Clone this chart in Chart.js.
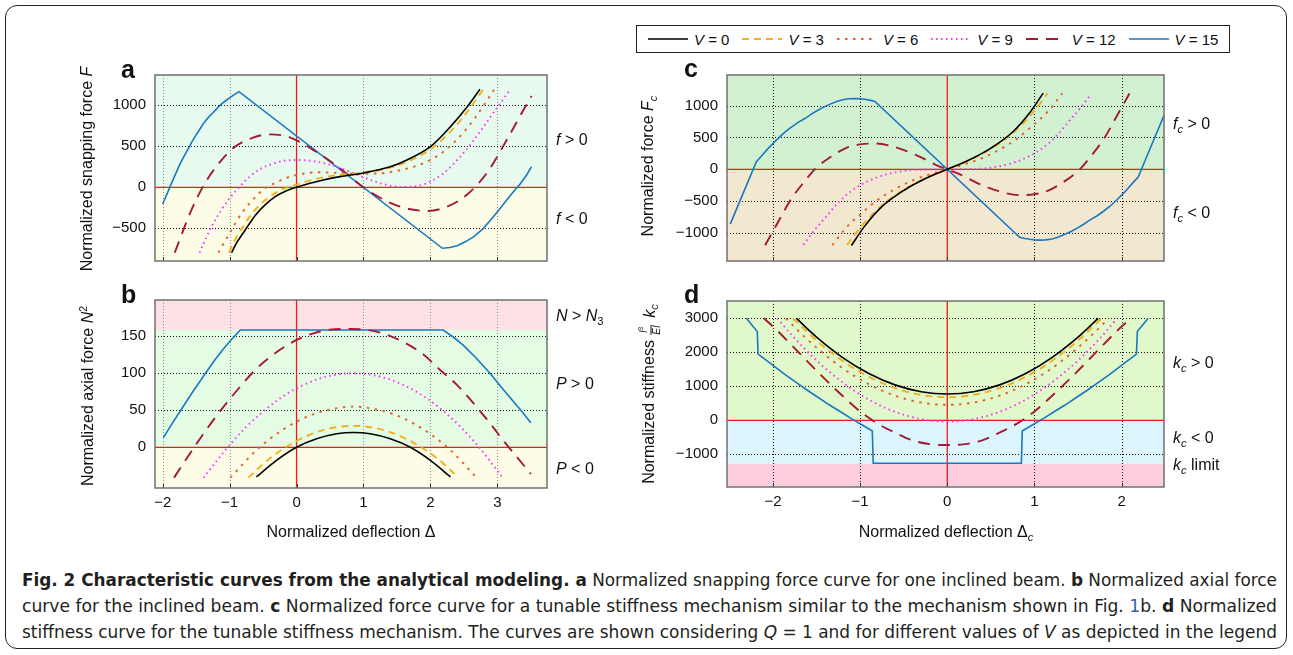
<!DOCTYPE html>
<html>
<head>
<meta charset="utf-8">
<title>Fig. 2</title>
<script src="https://cdn.jsdelivr.net/npm/chart.js@4.4.0/dist/chart.umd.min.js"></script>
<style>
  html, body { margin: 0; padding: 0; background: #fff; }
  body { width: 1293px; height: 655px; position: relative; overflow: hidden;
         font-family: "Liberation Sans", Arial, Helvetica, sans-serif; color: #111; }
  .outer { position: absolute; left: 5px; top: 5px; width: 1280px; height: 642px;
           border: 1.5px solid #222; border-radius: 12px; }
  canvas { position: absolute; }
  .txt { position: absolute; white-space: nowrap; line-height: 1; }
  .mid { transform: translateY(-50%); }
  .ctr { transform: translate(-50%, -50%); }
  .rot { transform: translate(-50%, -50%) rotate(-90deg); }
  .letter { font-weight: bold; font-size: 25px; }
  .ann, .ttl { font-size: 16px; }
  sub { font-size: 70%; vertical-align: -0.35em; line-height: 0; }
  sup { font-size: 65%; vertical-align: 0.55em; line-height: 0; }
  .frac { display: inline-block; vertical-align: middle; text-align: center;
          font-size: 10px; line-height: 1.05; margin: 0 3px 0 1px; }
  .frac span { display: block; }
  .frac .num { border-bottom: 1px solid #111; padding: 0 1px 1px; }
  #legend { position: absolute; left: 636px; top: 25px; width: 594px; height: 28px;
            box-sizing: border-box; border: 1px solid #222; display: flex; align-items: center;
            padding-left: 11px; font-size: 15px; white-space: nowrap; }
  #legend .item { display: flex; align-items: center; margin-right: 13px; flex-shrink: 0; }
  #legend svg { margin-right: 6px; flex-shrink: 0; }
  #legend span { white-space: nowrap; }
  .cap { position: absolute; left: 22px; font-family: "Liberation Sans Narrow", "DejaVu Sans Condensed", "Liberation Sans", sans-serif;
         font-size: 18px; line-height: 1; white-space: nowrap; transform-origin: 0 0; color: #231f20; }
  .cap .lnk { color: #2c5fb4; }
</style>
</head>
<body>
<div class="outer"></div>

<canvas id="chartA"></canvas>
<canvas id="chartB"></canvas>
<canvas id="chartC"></canvas>
<canvas id="chartD"></canvas>

<div id="legend"></div>

<div class="txt letter" style="left:121px;top:57px">a</div>
<div class="txt letter" style="left:121px;top:282px">b</div>
<div class="txt letter" style="left:684px;top:56px">c</div>
<div class="txt letter" style="left:684px;top:282px">d</div>

<div class="txt ttl rot" style="left:87px;top:169px">Normalized snapping force <i>F</i></div>
<div class="txt ttl rot" style="left:88px;top:396px">Normalized axial force <i>N</i><sup>2</sup></div>
<div class="txt ttl rot" style="left:648px;top:166px">Normalized force <i>F<sub>c</sub></i></div>
<div class="txt ttl rot" style="left:650px;top:394px">Normalized stiffness <span class="frac"><span class="num"><i>l</i><sup>3</sup></span><span><i>EI</i></span></span> <i>k<sub>c</sub></i></div>

<div class="txt ttl ctr" style="left:351px;top:532px">Normalized deflection Δ</div>
<div class="txt ttl ctr" style="left:946px;top:532px">Normalized deflection Δ<sub><i>c</i></sub></div>

<div class="txt ann mid" style="left:556px;top:140px"><i>f</i> &gt; 0</div>
<div class="txt ann mid" style="left:556px;top:219px"><i>f</i> &lt; 0</div>
<div class="txt ann mid" style="left:556px;top:316px"><i>N</i> &gt; <i>N</i><sub>3</sub></div>
<div class="txt ann mid" style="left:556px;top:384px"><i>P</i> &gt; 0</div>
<div class="txt ann mid" style="left:556px;top:469px"><i>P</i> &lt; 0</div>
<div class="txt ann mid" style="left:1173px;top:124px"><i>f<sub>c</sub></i> &gt; 0</div>
<div class="txt ann mid" style="left:1173px;top:213px"><i>f<sub>c</sub></i> &lt; 0</div>
<div class="txt ann mid" style="left:1173px;top:363px"><i>k<sub>c</sub></i> &gt; 0</div>
<div class="txt ann mid" style="left:1173px;top:438px"><i>k<sub>c</sub></i> &lt; 0</div>
<div class="txt ann mid" style="left:1173px;top:465px"><i>k<sub>c</sub></i> limit</div>

<div class="cap" style="top:571px"><b>Fig. 2 Characteristic curves from the analytical modeling. a</b> Normalized snapping force curve for one inclined beam. <b>b</b> Normalized axial force</div>
<div class="cap" style="top:597px">curve for the inclined beam. <b>c</b> Normalized force curve for a tunable stiffness mechanism similar to the mechanism shown in Fig. <span class="lnk">1</span>b. <b>d</b> Normalized</div>
<div class="cap" style="top:623px">stiffness curve for the tunable stiffness mechanism. The curves are shown considering <i>Q</i> = 1 and for different values of <i>V</i> as depicted in the legend</div>

<script>
const vValues = [0, 3, 6, 9, 12, 15];

// a: normalized snapping force F vs deflection
const aXTicks = [-2, -1, 0, 1, 2, 3];
const aYTicks = [-500, 0, 500, 1000];
const aXRange = [-2.115, 3.742];
const aYRange = [-899, 1370];
const aBounds = [0];
const aV0 = [[-0.97,-797],[-0.9,-683],[-0.8,-561],[-0.7,-439],[-0.6,-325],[-0.47,-215],[-0.32,-114],[-0.15,-41],[0,0],[0.2,49],[0.4,89],[0.65,130],[1.0,175],[1.4,251],[1.65,333],[2.0,495],[2.3,740],[2.55,983],[2.74,1195]];
const aV3 = [[-1.01,-797],[-0.92,-642],[-0.8,-480],[-0.7,-358],[-0.55,-215],[-0.4,-114],[-0.25,-41],[-0.1,8],[0.05,45],[0.25,95],[0.45,130],[0.7,159],[1.0,180],[1.4,240],[1.65,310],[2.0,463],[2.3,680],[2.55,920],[2.79,1195]];
const aV6 = [[-1.17,-797],[-1.0,-561],[-0.82,-317],[-0.61,-114],[-0.47,-12],[-0.3,60],[-0.17,110],[0,150],[0.3,183],[0.6,178],[0.9,165],[1.2,168],[1.5,200],[1.8,265],[2.06,360],[2.37,560],[2.67,850],[2.95,1190]];
const aV9 = [[-1.45,-797],[-1.27,-480],[-1.14,-297],[-1.0,-134],[-0.85,8],[-0.7,130],[-0.55,220],[-0.4,275],[-0.2,322],[0,333],[0.2,325],[0.4,295],[0.6,250],[0.8,190],[1.0,122],[1.3,38],[1.55,5],[1.8,15],[2.0,70],[2.2,175],[2.4,333],[2.65,577],[2.9,861],[3.18,1180]];
const aV12 = [[-1.82,-797],[-1.57,-276],[-1.37,49],[-1.14,313],[-0.95,476],[-0.65,606],[-0.4,646],[-0.1,610],[0.3,430],[0.7,200],[1.0,0],[1.4,-190],[1.7,-268],[1.95,-289],[2.25,-236],[2.54,-94],[2.84,171],[3.14,577],[3.39,943],[3.51,1113]];
const aV15 = [[-2.0,-203],[-1.94,-90],[-1.89,8],[-1.82,140],[-1.75,270],[-1.68,380],[-1.62,470],[-1.56,560],[-1.5,640],[-1.44,715],[-1.39,780],[-1.32,850],[-1.25,910],[-1.19,960],[-1.14,1004],[-1.07,1050],[-1.0,1090],[-0.93,1130],[-0.86,1167],[2.18,-744],[2.29,-735],[2.4,-712],[2.52,-665],[2.65,-602],[2.78,-510],[2.9,-399],[3.02,-280],[3.14,-155],[3.24,-55],[3.34,40],[3.43,140],[3.51,251]];

// b: normalized axial force N^2 vs deflection
const bXTicks = [-2, -1, 0, 1, 2, 3];
const bYTicks = [0, 50, 100, 150];
const bXRange = [-2.115, 3.742];
const bYRange = [-55, 199];
const bBounds = [0, 158.5];
const bV0 = [[-0.6,-40],[-0.3,-17.7],[0,0],[0.3,11.4],[0.6,18.2],[0.85,20],[1.1,18.2],[1.4,11.4],[1.7,0],[2.0,-17.7],[2.3,-40]];
const bV3 = [[-0.72,-41],[-0.4,-15],[0,8.5],[0.4,23.3],[0.85,29],[1.3,23.3],[1.7,8.5],[2.1,-15],[2.42,-41]];
const bV6 = [[-0.99,-41],[-0.6,-4],[-0.2,24],[0.2,43],[0.5,51],[0.85,55],[1.2,51],[1.5,43],[1.9,24],[2.3,-4],[2.69,-41]];
const bV9 = [[-1.39,-41],[-1.0,3],[-0.75,27.6],[-0.5,48.4],[-0.25,65.8],[0,79.6],[0.4,94.3],[0.85,100],[1.3,94.3],[1.7,79.6],[1.95,65.8],[2.2,48.4],[2.45,27.6],[2.7,3],[3.08,-41]];
const bV12 = [[-1.83,-41],[-1.5,4],[-1.26,34.7],[-0.99,66],[-0.59,107],[-0.29,129],[0,145],[0.25,154],[0.5,159],[0.8,160],[1.1,158],[1.35,152],[1.6,142],[1.9,125],[2.15,104],[2.4,84],[2.6,64],[2.85,37],[3.1,8],[3.3,-14],[3.5,-36]];
const bV15 = [[-1.99,13],[-1.86,32],[-1.73,50],[-1.55,75],[-1.36,100],[-1.23,117],[-1.1,132],[-0.97,146],[-0.84,158.5],[2.19,158.5],[2.34,149],[2.49,138],[2.69,120],[2.89,100],[3.06,81],[3.24,62],[3.37,48],[3.5,33]];

// c: normalized force Fc vs deflection
const cXTicks = [-2, -1, 0, 1, 2];
const cYTicks = [-1000, -500, 0, 500, 1000];
const cXRange = [-2.527, 2.486];
const cYRange = [-1438, 1479];
const cBounds = [0];
const cV0 = [[-1.1,-1195],[-0.95,-895],[-0.75,-585],[-0.5,-332],[-0.25,-145],[0,0],[0.25,145],[0.5,332],[0.75,585],[0.95,895],[1.1,1195]];
const cV3 = [[-1.15,-1190],[-1.0,-916],[-0.75,-565],[-0.5,-319],[-0.25,-142],[0,0],[0.25,142],[0.5,319],[0.75,565],[1.0,916],[1.15,1190]];
const cV6 = [[-1.32,-1190],[-1.15,-900],[-1.0,-710],[-0.8,-480],[-0.6,-310],[-0.4,-175],[-0.2,-80],[0,0],[0.2,80],[0.4,175],[0.6,310],[0.8,480],[1.0,710],[1.15,900],[1.32,1190]];
const cV9 = [[-1.65,-1185],[-1.55,-1000],[-1.4,-760],[-1.25,-520],[-1.1,-340],[-0.9,-180],[-0.7,-80],[-0.5,-25],[-0.3,-5],[0,0],[0.3,5],[0.5,25],[0.7,80],[0.9,180],[1.1,340],[1.25,520],[1.4,760],[1.55,1000],[1.65,1185]];
const cV12 = [[-2.09,-1190],[-1.95,-849],[-1.8,-485],[-1.65,-210],[-1.52,0],[-1.34,193],[-1.15,339],[-1.0,391],[-0.82,405],[-0.58,339],[-0.35,219],[-0.12,63],[0,0],[0.12,-63],[0.35,-219],[0.58,-339],[0.82,-405],[1.0,-391],[1.15,-339],[1.34,-193],[1.52,0],[1.65,210],[1.8,485],[1.95,849],[2.09,1190]];
const cV15 = [[-2.49,-860],[-2.34,-370],[-2.19,120],[-2.12,225],[-2.06,320],[-2.0,405],[-1.94,485],[-1.87,575],[-1.8,650],[-1.72,728],[-1.63,800],[-1.56,865],[-1.5,915],[-1.42,975],[-1.33,1030],[-1.26,1068],[-1.2,1092],[-1.13,1106],[-1.06,1110],[-1.0,1106],[-0.95,1098],[-0.89,1085],[-0.83,1065],[0.83,-1065],[0.89,-1085],[0.95,-1098],[1.0,-1106],[1.06,-1110],[1.13,-1106],[1.2,-1092],[1.26,-1068],[1.33,-1030],[1.42,-975],[1.5,-915],[1.56,-865],[1.63,-800],[1.72,-728],[1.8,-650],[1.87,-575],[1.94,-485],[2.0,-405],[2.06,-320],[2.12,-225],[2.19,-120],[2.34,370],[2.49,860]];

// d: normalized stiffness kc vs deflection
const dXTicks = [-2, -1, 0, 1, 2];
const dYTicks = [-1000, 0, 1000, 2000, 3000];
const dXRange = [-2.527, 2.486];
const dYRange = [-1962, 3509];
const dBounds = [-1265, 0];
const dV0 = [[-1.73,3000],[-1.62,2727],[-1.5,2448],[-1.2,1845],[-0.9,1377],[-0.6,1042],[-0.3,841],[0,774],[0.3,841],[0.6,1042],[0.9,1377],[1.2,1845],[1.5,2448],[1.62,2727],[1.73,3000]];
const dV3 = [[-1.77,3000],[-1.5,2345],[-1.2,1746],[-0.9,1279],[-0.6,946],[-0.3,747],[0,680],[0.3,747],[0.6,946],[0.9,1279],[1.2,1746],[1.5,2345],[1.77,3000]];
const dV6 = [[-1.85,3000],[-1.7,2610],[-1.5,2138],[-1.2,1532],[-0.9,1061],[-0.6,724],[-0.3,522],[0,455],[0.3,522],[0.6,724],[0.9,1061],[1.2,1532],[1.5,2138],[1.7,2610],[1.85,3000]];
const dV9 = [[-1.95,3000],[-1.75,2409],[-1.5,1760],[-1.2,1113],[-0.9,609],[-0.6,250],[-0.3,34],[0,-38],[0.3,34],[0.6,250],[0.9,609],[1.2,1113],[1.5,1760],[1.75,2409],[1.95,3000]];
const dV12 = [[-2.105,3000],[-2.0,2760],[-1.8,2250],[-1.6,1720],[-1.4,1204],[-1.2,716],[-1.0,260],[-0.8,-97],[-0.6,-362],[-0.4,-590],[-0.2,-700],[0,-728],[0.2,-700],[0.4,-590],[0.6,-362],[0.8,-97],[1.0,260],[1.2,716],[1.4,1204],[1.6,1720],[1.8,2250],[2.0,2760],[2.105,3000]];
const dV15 = [[-2.305,3000],[-2.18,2610],[-2.17,1946],[-2.01,1640],[-1.86,1346],[-1.73,1110],[-1.61,891],[-1.48,670],[-1.36,463],[-1.23,258],[-1.11,62],[-0.98,-130],[-0.86,-314],[-0.85,-1265],[0.85,-1265],[0.86,-314],[0.98,-130],[1.11,62],[1.23,258],[1.36,463],[1.48,670],[1.61,891],[1.73,1110],[1.86,1346],[2.01,1640],[2.17,1946],[2.18,2610],[2.305,3000]];

// line styles per V
const vColors = ['#000000', '#f2b01e', '#e4602a', '#ff2cff', '#a3193a', '#1c77c3'];
const vDashes = [[], [7, 5], [2.5, 5.5], [1.5, 3.5], [12, 8], []];
const vWidths = [1.6, 1.9, 1.9, 1.9, 1.9, 1.6];

const YW = 60, PAD = 10;
const FONT = '"Liberation Sans", Arial, sans-serif';
const fmt = v => (v < 0 ? '\u2212' : '') + Math.abs(v);

const panels = [
  { id: 'chartA', box: {l: 155, t: 75, r: 547, b: 261, xh: 2}, xr: aXRange, yr: aYRange, xt: aXTicks, yt: aYTicks,
    series: [aV0, aV3, aV6, aV9, aV12, aV15], bounds: aBounds, fills: ['#fdfde7', '#e6fbee'], vgrid: '#8c8c8c', showX: false },
  { id: 'chartB', box: {l: 155, t: 300, r: 547, b: 488, xh: 30}, xr: bXRange, yr: bYRange, xt: bXTicks, yt: bYTicks,
    series: [bV0, bV3, bV6, bV9, bV12, bV15], bounds: bBounds, fills: ['#fdfde7', '#e3fce3', '#fde2e5'], vgrid: '#8c8c8c', showX: true },
  { id: 'chartC', box: {l: 727, t: 75, r: 1164, b: 261, xh: 2}, xr: cXRange, yr: cYRange, xt: cXTicks, yt: cYTicks,
    series: [cV0, cV3, cV6, cV9, cV12, cV15], bounds: cBounds, fills: ['#f1e8cf', '#d1f1d1'], vgrid: '#111', showX: false },
  { id: 'chartD', box: {l: 727, t: 301, r: 1164, b: 487, xh: 30}, xr: dXRange, yr: dYRange, xt: dXTicks, yt: dYTicks,
    series: [dV0, dV3, dV6, dV9, dV12, dV15], bounds: dBounds, fills: ['#fdcde0', '#dcf5fc', '#e1f8ca'], vgrid: '#111', showX: true }
];

// bands, dotted grid, red zero lines and frame
const decor = (p) => ({
  id: 'decor',
  beforeDatasetsDraw(chart) {
    const {ctx, chartArea: ca} = chart;
    const x = chart.scales.x, y = chart.scales.y;
    const edges = [p.yr[0]].concat(p.bounds, [p.yr[1]]);
    ctx.save();
    p.fills.forEach((f, i) => {
      const y1 = y.getPixelForValue(edges[i + 1]);
      const y2 = y.getPixelForValue(edges[i]);
      ctx.fillStyle = f;
      ctx.fillRect(ca.left, y1, ca.width, y2 - y1);
    });
    ctx.lineWidth = 1;
    ctx.setLineDash([1, 2]);
    p.xt.forEach(v => {
      if (v === 0) return;
      const px = Math.round(x.getPixelForValue(v)) + 0.5;
      ctx.strokeStyle = p.vgrid;
      ctx.beginPath(); ctx.moveTo(px, ca.top); ctx.lineTo(px, ca.bottom); ctx.stroke();
    });
    p.yt.forEach(v => {
      if (v === 0) return;
      const py = Math.round(y.getPixelForValue(v)) + 0.5;
      ctx.strokeStyle = '#111';
      ctx.beginPath(); ctx.moveTo(ca.left, py); ctx.lineTo(ca.right, py); ctx.stroke();
    });
    ctx.setLineDash([]);
    ctx.strokeStyle = '#f01c1c';
    ctx.lineWidth = 1.3;
    const x0 = x.getPixelForValue(0), y0 = y.getPixelForValue(0);
    ctx.beginPath(); ctx.moveTo(x0, ca.top); ctx.lineTo(x0, ca.bottom); ctx.stroke();
    ctx.beginPath(); ctx.moveTo(ca.left, y0); ctx.lineTo(ca.right, y0); ctx.stroke();
    ctx.restore();
  },
  afterDatasetsDraw(chart) {
    const {ctx, chartArea: ca} = chart;
    const x = chart.scales.x;
    ctx.save();
    ctx.strokeStyle = '#333';
    ctx.lineWidth = 1;
    p.xt.forEach(v => {
      const px = Math.round(x.getPixelForValue(v)) + 0.5;
      ctx.beginPath(); ctx.moveTo(px, ca.bottom); ctx.lineTo(px, ca.bottom - 4); ctx.stroke();
    });
    ctx.strokeStyle = '#707070';
    ctx.lineWidth = 1.5;
    ctx.strokeRect(ca.left, ca.top, ca.width, ca.height);
    ctx.restore();
  }
});

panels.forEach(p => {
  const cv = document.getElementById(p.id);
  const b = p.box;
  cv.width = b.r + PAD - (b.l - YW);
  cv.height = b.b + b.xh + PAD - (b.t - PAD);
  cv.style.left = (b.l - YW) + 'px';
  cv.style.top = (b.t - PAD) + 'px';

  new Chart(cv, {
    type: 'line',
    data: {
      datasets: p.series.map((pts, i) => ({
        label: 'V = ' + vValues[i],
        data: pts.map(q => ({x: q[0], y: q[1]})),
        borderColor: vColors[i],
        borderWidth: vWidths[i],
        borderDash: vDashes[i],
        pointRadius: 0,
        fill: false,
        tension: 0,
        cubicInterpolationMode: i === 5 ? 'default' : 'monotone'
      }))
    },
    options: {
      responsive: false,
      animation: false,
      events: [],
      layout: {padding: {top: PAD, right: PAD, bottom: PAD, left: 0}},
      plugins: {legend: {display: false}, tooltip: {enabled: false}},
      scales: {
        x: {
          type: 'linear', min: p.xr[0], max: p.xr[1],
          afterBuildTicks: s => { s.ticks = p.xt.map(v => ({value: v})); },
          afterFit: s => { s.height = b.xh; s.paddingLeft = 0; s.paddingRight = 0; },
          grid: {display: false, drawTicks: false},
          border: {display: false},
          ticks: {display: p.showX, padding: 6, autoSkip: false, maxRotation: 0,
                  color: '#111', font: {family: FONT, size: 15}, callback: fmt}
        },
        y: {
          type: 'linear', min: p.yr[0], max: p.yr[1],
          afterBuildTicks: s => { s.ticks = p.yt.map(v => ({value: v})); },
          afterFit: s => { s.width = YW; s.paddingTop = 0; s.paddingBottom = 0; },
          grid: {display: false, drawTicks: false},
          border: {display: false},
          ticks: {padding: 9, autoSkip: false, color: '#111', font: {family: FONT, size: 15}, callback: fmt}
        }
      }
    },
    plugins: [decor(p)]
  });
});

// legend
const leg = document.getElementById('legend');
vValues.forEach((v, i) => {
  const item = document.createElement('div');
  item.className = 'item';
  const dash = vDashes[i].length ? vDashes[i].join(' ') : 'none';
  item.innerHTML = '<svg width="40" height="6"><line x1="0" y1="3" x2="40" y2="3" stroke="' + vColors[i] +
    '" stroke-width="' + vWidths[i] + '" stroke-dasharray="' + dash + '"/></svg><span><i>V</i>&nbsp;=&nbsp;' + v + '</span>';
  leg.appendChild(item);
});

// caption lines fill the box width
document.querySelectorAll('.cap').forEach(el => {
  const w = el.getBoundingClientRect().width;
  el.style.transform = 'scaleX(' + (1255 / w) + ')';
});
</script>
</body>
</html>
